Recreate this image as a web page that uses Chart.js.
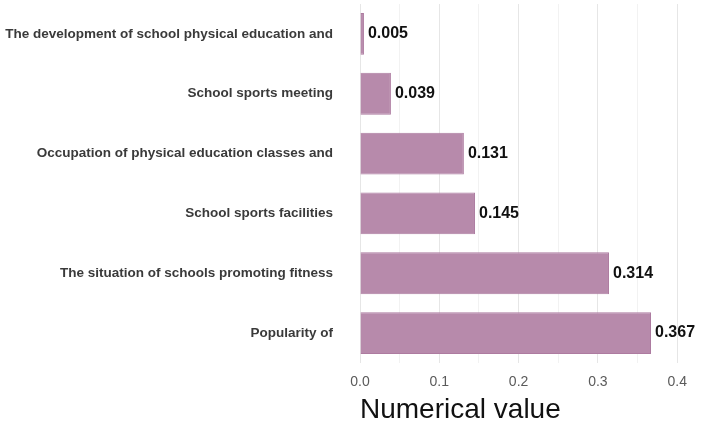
<!DOCTYPE html>
<html>
<head>
<meta charset="utf-8">
<script src="https://cdn.jsdelivr.net/npm/chart.js@4"></script>
<style>
  html, body { margin: 0; padding: 0; background: #fff; }
  #wrap { width: 720px; height: 427px; position: relative; }
</style>
</head>
<body>
<div id="wrap"><canvas id="chart"></canvas></div>
<script>
const categories = [
    'The development of school physical education and',
    'School sports meeting',
    'Occupation of physical education classes and',
    'School sports facilities',
    'The situation of schools promoting fitness',
    'Popularity of'
];
const values = [0.005, 0.039, 0.131, 0.145, 0.314, 0.367];
const tickLabels = ['0.0', '0.1', '0.2', '0.3', '0.4'];

// draw value next to the end of each bar
const valueLabels = {
    id: 'valueLabels',
    afterDatasetsDraw(chart) {
        const ctx = chart.ctx;
        const meta = chart.getDatasetMeta(0);
        ctx.save();
        ctx.font = 'bold 16px "Liberation Sans", Arial, sans-serif';
        ctx.fillStyle = '#111';
        ctx.textBaseline = 'middle';
        ctx.textAlign = 'left';
        meta.data.forEach((bar, i) => {
            ctx.fillText(values[i].toFixed(3), bar.x + 4, bar.y);
        });
        ctx.restore();
    }
};

new Chart(document.getElementById('chart'), {
    type: 'bar',
    data: {
        labels: categories,
        datasets: [{
            data: values,
            backgroundColor: '#b78aab',
            borderColor: '#ad7ba0',
            borderWidth: 1,
            categoryPercentage: 1,
            barPercentage: 0.7
        }]
    },
    options: {
        indexAxis: 'y',
        responsive: true,
        maintainAspectRatio: false,
        animation: false,
        layout: { padding: { top: 4, right: 0, left: 0, bottom: 0 } },
        plugins: { legend: { display: false }, tooltip: { enabled: false } },
        scales: {
            x: {
                min: 0,
                max: 0.454,
                border: { display: false },
                grid: {
                    drawTicks: false,
                    color: ctx => (Math.round(ctx.tick.value * 100) % 10 === 0) ? '#e6e6e6' : '#f2f2f2',
                    lineWidth: 1
                },
                ticks: {
                    stepSize: 0.05,
                    padding: 11,
                    color: '#5a5a5a',
                    font: { family: '"Liberation Sans", Arial, sans-serif', size: 14 },
                    callback: v => {
                        const k = Math.round(v * 100);
                        return k % 10 === 0 ? tickLabels[k / 10] : '';
                    }
                },
                title: {
                    display: true,
                    text: 'Numerical value',
                    align: 'start',
                    color: '#111',
                    font: { family: '"Liberation Sans", Arial, sans-serif', size: 28 },
                    padding: { top: 4, bottom: 0 }
                },
                afterFit: scale => {
                    scale.height = 64;
                    scale.paddingLeft = 0;
                    scale.paddingRight = 0;
                }
            },
            y: {
                border: { display: false },
                grid: { display: false, drawTicks: false },
                ticks: {
                    padding: 27,
                    color: '#3a3a3a',
                    font: { family: '"Liberation Sans", Arial, sans-serif', size: 13.5, weight: 'bold' }
                },
                afterFit: scale => {
                    scale.width = 360;
                    scale.paddingTop = 0;
                    scale.paddingBottom = 0;
                }
            }
        }
    },
    plugins: [valueLabels]
});
</script>
</body>
</html>
